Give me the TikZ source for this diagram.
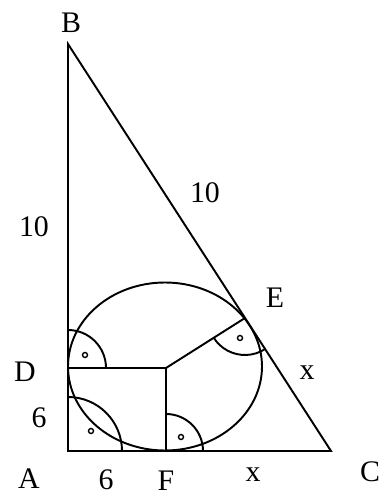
\documentclass[tikz,border=0pt]{standalone}
\usepackage{fontspec}
\setmainfont{Liberation Serif}
\usetikzlibrary{positioning}

\begin{document}
\begin{tikzpicture}[x=0.02cm,y=0.02cm,line width=1.1pt,font=\fontsize{17}{20}\selectfont]
\useasboundingbox (0,0) rectangle (381,495);
% Triangle, tangent points and centre of the incircle.
\coordinate (A) at (68,44);
\coordinate (B) at (68,451);
\coordinate (C) at (331,44);
\coordinate (D) at (68,127);
\coordinate (F) at (166,44);
\coordinate (E) at (245,177);
\coordinate (O) at (166,127);
\coordinate (M) at (165,128.5);
\draw (A) -- (B) -- (C) -- cycle;
\draw (M) ellipse[x radius=97,y radius=84];
\draw (D) -- (O) -- (F);
\draw (O) -- (E);
% Right-angle marks with their dots.
\foreach \p/\r/\a/\b in {D/38/0/90,A/54/0/90,F/37/0/90,E/37/212/303}{
  \draw ([shift={(\a:\r)}]\p) arc[start angle=\a,end angle=\b,radius=\r];
}
\foreach \x/\y in {85/140,91/64,181/58,240/157}{\draw[line width=0.8pt] (\x,\y) circle (2.5);}
% Labels.
\node (lB) at (71,472) {B};
\node (lA) at (29,16) {A};
\node (lC) at (370,23) {C};
\node (lD) at (25,123) {D};
\node (lE) at (275,197) {E};
\node (lF) at (166,14) {F};
\node (lAB) at (34,268) {10};
\node (lBC) at (205,302) {10};
\node (lAD) at (39,77) {6};
\node (lAF) at (106,15) {6};
\node (lFC) at (253,20) {x};
\node (lEC) at (307,122) {x};
\end{tikzpicture}
\end{document}
